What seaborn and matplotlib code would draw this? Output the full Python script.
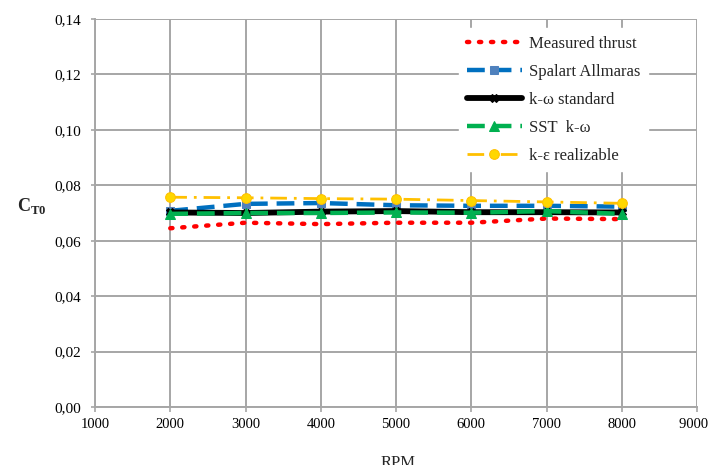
import matplotlib
matplotlib.use("Agg")
import matplotlib.pyplot as plt
from matplotlib.ticker import FuncFormatter, MultipleLocator
import seaborn as sns
import pandas as pd

rpm = [2000, 3000, 4000, 5000, 6000, 7000, 8000]
measured_thrust = [0.0645, 0.0665, 0.0660, 0.0665, 0.0665, 0.0680, 0.0678]
spalart_allmaras = [0.0708, 0.0733, 0.0736, 0.0728, 0.0726, 0.0726, 0.0723]
k_omega_standard = [0.0702, 0.0700, 0.0705, 0.0707, 0.0703, 0.0703, 0.0702]
sst_k_omega = [0.0697, 0.0700, 0.0700, 0.0702, 0.0701, 0.0707, 0.0697]
k_eps_realizable = [0.0757, 0.0755, 0.0752, 0.0750, 0.0745, 0.0740, 0.0735]

series_names = ["Measured thrust", "Spalart Allmaras", "k-\u03c9 standard",
                "SST  k-\u03c9", "k-\u03b5 realizable"]
series_values = [measured_thrust, spalart_allmaras, k_omega_standard,
                 sst_k_omega, k_eps_realizable]

sns.set_theme(style="white")
plt.rcParams["font.family"] = ["Liberation Serif", "DejaVu Serif"]

fig = plt.figure(figsize=(7.10, 4.65), dpi=100)
ax = fig.add_axes([0.1338, 0.1247, 0.848, 0.8344])

styles = [
    dict(color="#ff0000", lw=3.2, ls=(0, (0.5, 2.2)), dash_capstyle="round", marker=None),
    dict(color="#0070c0", lw=3.2, ls=(0, (4, 2)), marker="s", ms=6,
         mfc="#4f81bd", mec="#4f81bd"),
    dict(color="#000000", lw=4.2, ls="-", marker="X", ms=6, mfc="#000000", mec="#000000"),
    dict(color="#00b050", lw=3.2, ls=(0, (4, 2)), marker="^", ms=7,
         mfc="#00b050", mec="#00b050"),
    dict(color="#ffc000", lw=2.0, ls=(0, (6, 2.5, 1, 2.5)), marker="o", ms=7,
         mfc="#ffd700", mec="#ffc000"),
]

for name, vals, st in zip(series_names, series_values, styles):
    df = pd.DataFrame({"RPM": rpm, "CT0": vals})
    st = dict(st)
    marker = st.pop("marker")
    sns.lineplot(data=df, x="RPM", y="CT0", ax=ax, label=name, marker=marker, **st)

x_min, x_max = 1000, 9000
ax.set_xlim(x_min, x_max)
ax.set_ylim(0, 0.14)
ax.xaxis.set_major_locator(MultipleLocator(1000))
ax.yaxis.set_major_locator(MultipleLocator(0.02))
ax.yaxis.set_major_formatter(FuncFormatter(lambda v, p: f"{v:.2f}".replace(".", ",")))


def x_fmt(v, p):
    # trailing padding nudges the last label away from the canvas edge
    return f"{v:.0f}  " if v >= x_max else f"{v:.0f}"


ax.xaxis.set_major_formatter(FuncFormatter(x_fmt))
ax.grid(True, color="#a6a6a6", lw=1.4)
ax.set_axisbelow(True)

for side in ["top", "right"]:
    ax.spines[side].set_visible(False)
for side in ["left", "bottom"]:
    ax.spines[side].set_color("#a6a6a6")
    ax.spines[side].set_linewidth(1.4)

ax.tick_params(axis="both", which="major", colors="#a6a6a6",
               labelcolor="#000000", width=1.2, direction="out",
               left=True, bottom=True)
ax.tick_params(axis="y", length=2.8, pad=7, labelsize=11)
ax.tick_params(axis="x", length=3.6, pad=4, labelsize=10.5)

ax.set_xlabel("")
ax.set_ylabel("")
fig.text(0.044, 0.556, r"C$_{\mathregular{T0}}$", fontsize=13, fontweight="bold",
         ha="center", va="center")
fig.text(0.56, 0.022, "RPM", fontsize=12, ha="center", va="top")

leg = ax.legend(loc="upper right", bbox_to_anchor=(0.918, 0.976), frameon=True,
                fontsize=12, handlelength=3.3, labelspacing=0.72,
                handletextpad=0.42, borderpad=0.45, borderaxespad=0)
leg.get_frame().set_facecolor("white")
leg.get_frame().set_edgecolor("white")
leg.get_frame().set_alpha(1.0)

fig.savefig("out.png", dpi=100)
